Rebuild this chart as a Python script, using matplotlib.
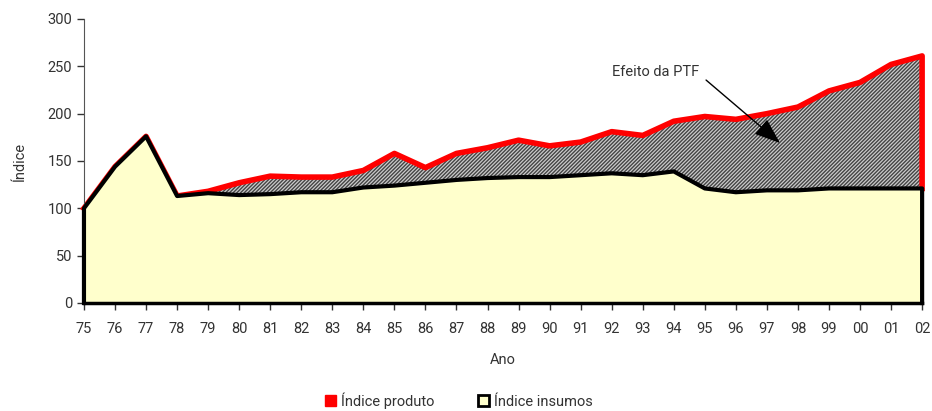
import matplotlib
matplotlib.use("Agg")
import matplotlib.pyplot as plt
from matplotlib.patches import Patch
from matplotlib import font_manager
import numpy as np

years = ["75","76","77","78","79","80","81","82","83","84","85","86","87","88",
         "89","90","91","92","93","94","95","96","97","98","99","00","01","02"]
produto = [100,144,176,113,118,127,134,133,133,140,158,143,158,164,
           172,166,170,181,177,192,197,194,200,207,224,233,252,261]
insumos = [100,144,176,113,116,114,115,117,117,122,124,127,130,132,
           133,133,135,137,135,139,121,117,119,119,121,121,121,121]

names = {f.name for f in font_manager.fontManager.ttflist}
main = "Liberation Sans Narrow" if "Liberation Sans Narrow" in names else "Roboto"
FONT = [main, "DejaVu Sans"]
plt.rcParams['font.family'] = FONT
plt.rcParams['hatch.linewidth'] = 1.0
FS = 10.5

fig = plt.figure(figsize=(9.32, 4.11), dpi=100)
ax = fig.add_axes([0.0901, 0.2628, 0.8993, 0.691])
x = np.arange(len(years))

ax.fill_between(x, 0, produto, facecolor="#cccccc", edgecolor="#444444",
                hatch="/////////", linewidth=0, zorder=1)
ax.plot(np.r_[x, x[-1]], np.r_[produto, insumos[-1]], color="#ff0000", lw=4,
        zorder=2, clip_on=False, solid_joinstyle="round")
ax.fill_between(x, 0, insumos, facecolor="#ffffcc", linewidth=0, zorder=3)
ax.plot(np.r_[x[0], x, x[-1]], np.r_[0, insumos, 0], color="black", lw=3,
        zorder=4, clip_on=False, solid_joinstyle="round")

ax.set_xlim(0, len(years) - 1)
ax.set_ylim(0, 300)
ax.set_xticks(x)
ax.set_xticklabels(years)
ax.set_yticks(range(0, 301, 50))
for s in ["top", "right"]:
    ax.spines[s].set_visible(False)
ax.spines["left"].set_color("#555555")
ax.spines["bottom"].set_linewidth(2.5)
ax.spines["bottom"].set_zorder(5)
ax.tick_params(axis="both", labelsize=FS, colors="#333333", length=5, width=1)
ax.tick_params(axis="x", pad=9)
ax.set_xlabel("Ano", fontsize=FS, color="#333333", labelpad=12)
ax.set_ylabel("Índice", fontsize=FS, color="#333333", labelpad=15)

ax.annotate("", xy=(22.42, 169), xytext=(20.04, 235.5),
            arrowprops=dict(arrowstyle="-|>,head_length=1.6,head_width=0.6",
                            color="black", lw=1, shrinkA=0, shrinkB=0), zorder=6)
ax.text(18.4, 244, "Efeito da PTF", fontsize=FS, color="#333333",
        ha="center", va="center", zorder=6)

handles = [Patch(facecolor="#ff0000", edgecolor="#ff0000", label="Índice produto"),
           Patch(facecolor="#ffffcc", edgecolor="black", linewidth=2, label="Índice insumos")]
fig.legend(handles=handles, loc="center", bbox_to_anchor=(0.492, 0.025), ncol=2,
           frameon=False, fontsize=FS, handlelength=0.8, handleheight=0.8,
           handletextpad=0.3, columnspacing=3.0, labelcolor="#333333")

fig.savefig("out.png", dpi=100)
